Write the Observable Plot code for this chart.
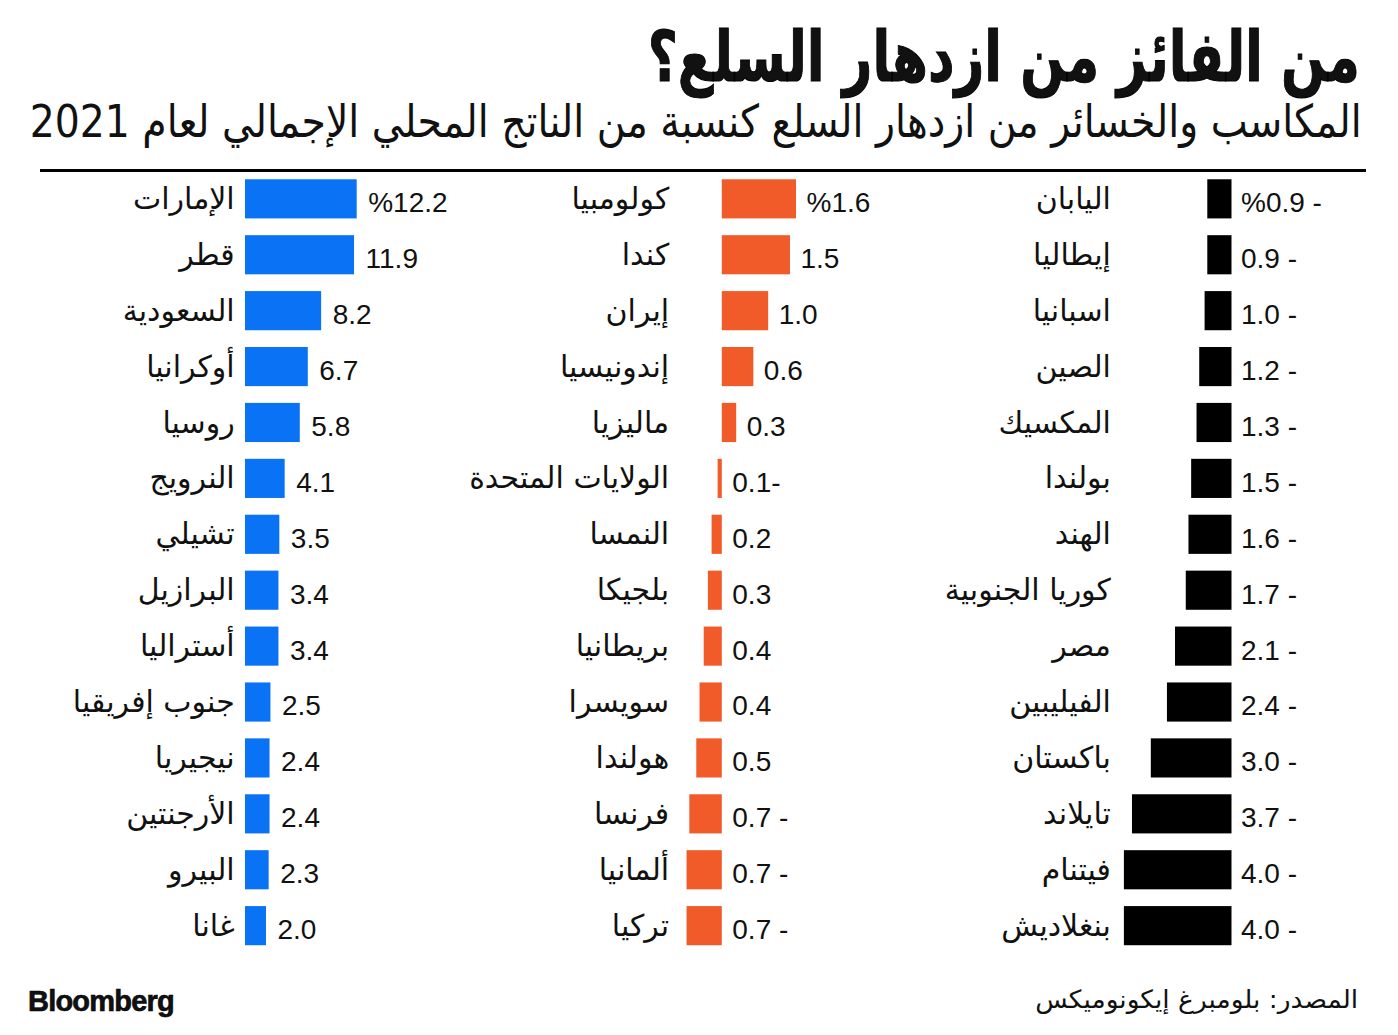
<!DOCTYPE html>
<html lang="ar">
<head>
<meta charset="utf-8">
<script src="https://cdn.jsdelivr.net/npm/d3@7"></script>
<script src="https://cdn.jsdelivr.net/npm/@observablehq/plot@0.6"></script>
<style>
  html, body { margin: 0; padding: 0; background: #fff; }
  #chart { position: relative; width: 1398px; height: 1035px; overflow: hidden; background: #fff; color: #111; }
  .title { position: absolute; right: 38px; top: 22px; font-family: "DejaVu Sans"; font-weight: bold; font-size: 70px; direction: rtl; white-space: nowrap; line-height: 1; transform-origin: right top; -webkit-text-stroke: 1px #000; }
  .subtitle { position: absolute; right: 36px; top: 97px; font-family: "DejaVu Sans"; font-size: 45px; direction: rtl; white-space: nowrap; line-height: 1.1; transform-origin: right top; }
  .rule { position: absolute; left: 40px; width: 1326px; top: 169px; height: 3px; background: #000; }
  .panel { position: absolute; top: 162px; }
  .panel svg { overflow: visible; }
  .brand { position: absolute; left: 28px; top: 985px; font-family: "Liberation Sans"; font-weight: bold; font-size: 29px; letter-spacing: -0.8px; -webkit-text-stroke: 0.6px #000; }
  .source { position: absolute; right: 40px; top: 985px; font-family: "DejaVu Sans"; font-size: 25px; direction: rtl; white-space: nowrap; transform-origin: right top; }
</style>
</head>
<body>
<div id="chart">
  <div class="title" id="title">من الفائز من ازدهار السلع؟</div>
  <div class="subtitle" id="subtitle">المكاسب والخسائر من ازدهار السلع كنسبة من الناتج المحلي الإجمالي لعام 2021</div>
  <div class="rule"></div>
  <div class="panel" id="p1" style="left:0px"></div>
  <div class="panel" id="p2" style="left:440px"></div>
  <div class="panel" id="p3" style="left:880px"></div>
  <div class="brand">Bloomberg</div>
  <div class="source" id="source">المصدر: بلومبرغ إيكونوميكس</div>
</div>
<script>
// ---- Data ----
const gainNames = ["الإمارات","قطر","السعودية","أوكرانيا","روسيا","النرويج","تشيلي","البرازيل","أستراليا","جنوب إفريقيا","نيجيريا","الأرجنتين","البيرو","غانا"];
const gainValues = [12.2, 11.9, 8.2, 6.7, 5.8, 4.1, 3.5, 3.4, 3.4, 2.5, 2.4, 2.4, 2.3, 2.0];

const midNames = ["كولومبيا","كندا","إيران","إندونيسيا","ماليزيا","الولايات المتحدة","النمسا","بلجيكا","بريطانيا","سويسرا","هولندا","فرنسا","ألمانيا","تركيا"];
const midValues = [1.6, 1.47, 1.0, 0.68, 0.31, -0.09, -0.22, -0.3, -0.39, -0.48, -0.55, -0.7, -0.76, -0.76];
const midLabels = ["%1.6","1.5","1.0","0.6","0.3","0.1-","0.2","0.3","0.4","0.4","0.5","0.7 -","0.7 -","0.7 -"];

const lossNames = ["اليابان","إيطاليا","اسبانيا","الصين","المكسيك","بولندا","الهند","كوريا الجنوبية","مصر","الفيليبين","باكستان","تايلاند","فيتنام","بنغلاديش"];
const lossValues = [-0.9, -0.9, -1.0, -1.2, -1.3, -1.5, -1.6, -1.7, -2.1, -2.4, -3.0, -3.7, -4.0, -4.0];

const gainLabels = gainValues.map((v, i) => (i === 0 ? "%" : "") + v.toFixed(1));
const lossLabels = lossValues.map((v, i) => (i === 0 ? "%" : "") + Math.abs(v).toFixed(1) + " -");

const colors = { gain: "#0a72f5", mid: "#f15a29", loss: "#000000" };

function panel({names, values, labels, color, domain, width, marginLeft, marginRight, nameDx, valueX, valueDx, insetLeft = 0}) {
  const data = names.map((n, i) => ({name: n, value: values[i], label: labels[i], lx: valueX(values[i])}));
  return Plot.plot({
    width,
    height: 800,
    marginTop: 0.5,
    marginBottom: 0,
    marginLeft,
    marginRight,
    style: {background: "transparent", overflow: "visible"},
    x: {domain, axis: null},
    y: {domain: names, padding: 0.3, round: false, axis: null},
    marks: [
      Plot.barX(data, {x1: 0, x2: "value", y: "name", fill: color, insetLeft}),
      Plot.text(data, {y: "name", text: "name", frameAnchor: "left", textAnchor: "end", dx: nameDx, dy: 0,
        fontFamily: "DejaVu Sans", fontSize: 30, fill: "#111"}),
      Plot.text(data, {x: "lx", y: "name", text: "label", textAnchor: "start", dx: valueDx, dy: 4,
        fontFamily: "Liberation Sans", fontSize: 28, letterSpacing: -1, fill: "#111"})
    ]
  });
}

document.getElementById("p1").appendChild(panel({
  names: gainNames, values: gainValues, labels: gainLabels, color: colors.gain,
  domain: [0, 12.2], width: 440, marginLeft: 248.2, marginRight: 440 - 356.7,
  nameDx: -14, valueX: v => v, valueDx: 11, insetLeft: -3.2
}));

document.getElementById("p2").appendChild(panel({
  names: midNames, values: midValues, labels: midLabels, color: colors.mid,
  domain: [-0.8, 1.6], width: 440, marginLeft: 684.7 - 440, marginRight: 440 - (796 - 440),
  nameDx: -16, valueX: v => Math.max(0, v), valueDx: 10
}));

document.getElementById("p3").appendChild(panel({
  names: lossNames, values: lossValues, labels: lossLabels, color: colors.loss,
  domain: [-4, 0], width: 518, marginLeft: 1123.9 - 880, marginRight: 518 - (1231.5 - 880),
  nameDx: -13.5, valueX: v => 0, valueDx: 9
}));

// fit header texts to the reference widths
function fit(id, w) {
  const el = document.getElementById(id);
  const r = el.getBoundingClientRect();
  el.style.transform = `scaleX(${w / r.width})`;
}
fit("title", 712);
fit("subtitle", 1332);
fit("source", 323);
</script>
</body>
</html>
